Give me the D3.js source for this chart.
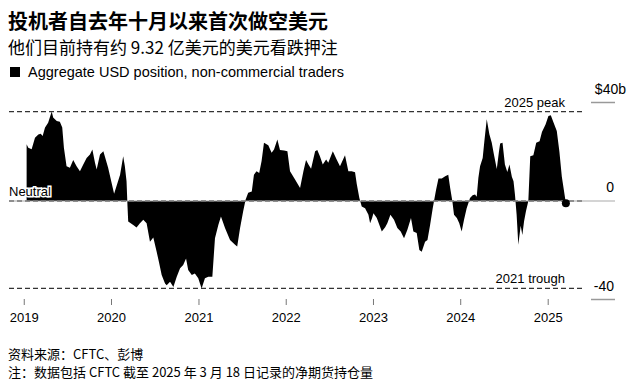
<!DOCTYPE html>
<html>
<head>
<meta charset="utf-8">
<script src="https://cdn.jsdelivr.net/npm/d3@7"></script>
<style>
  body { margin: 0; background: #fff; }
  svg { display: block; }
  text { font-family: "Liberation Sans", "Noto Sans CJK SC", sans-serif; fill: #000; }
  .cjk { font-family: "Noto Sans CJK SC", "Liberation Sans", sans-serif; }
</style>
</head>
<body>
<svg id="chart" width="636" height="383"></svg>
<script>
// weekly-ish readings, $bn net USD position
const dates = [
  "2019-01-13","2019-01-20","2019-02-03","2019-02-17","2019-03-03","2019-03-13","2019-03-21","2019-03-31",
  "2019-04-13","2019-04-28","2019-05-04","2019-05-19","2019-06-01","2019-06-11","2019-06-18","2019-06-29",
  "2019-07-13","2019-07-27","2019-08-10","2019-08-24","2019-09-07","2019-09-21","2019-10-05","2019-10-15",
  "2019-10-26","2019-11-02","2019-11-16","2019-11-30","2019-12-20",
  "2020-01-14","2020-02-08","2020-02-21","2020-02-28","2020-03-06","2020-03-10","2020-03-13","2020-04-03",
  "2020-04-17","2020-05-01","2020-05-15","2020-05-29","2020-06-12","2020-06-26","2020-07-10","2020-07-20",
  "2020-07-31","2020-08-14","2020-08-21","2020-09-04","2020-09-18","2020-10-02","2020-10-16","2020-10-29",
  "2020-11-10","2020-11-19","2020-12-04","2020-12-17","2020-12-31",
  "2021-01-14","2021-01-28","2021-02-11","2021-02-28","2021-03-11","2021-03-25","2021-04-05","2021-04-22",
  "2021-05-13","2021-06-03","2021-06-12","2021-06-24","2021-07-07","2021-07-17","2021-07-28","2021-08-12",
  "2021-08-21","2021-09-01","2021-09-12","2021-09-22","2021-10-02","2021-10-20","2021-11-03","2021-11-13",
  "2021-11-27","2021-12-08","2021-12-25",
  "2022-01-08","2022-01-19","2022-02-09","2022-03-02","2022-03-16","2022-03-27","2022-04-06","2022-04-17",
  "2022-05-04","2022-05-13","2022-05-24","2022-06-05","2022-06-19","2022-06-28","2022-07-17","2022-08-02",
  "2022-08-16","2022-09-06","2022-09-20","2022-10-04","2022-10-18","2022-10-25","2022-11-05","2022-11-15",
  "2022-11-29","2022-12-13","2022-12-20","2022-12-28",
  "2023-01-03","2023-01-17","2023-02-07","2023-02-21","2023-03-02","2023-03-15","2023-03-30","2023-04-13",
  "2023-04-27","2023-05-11","2023-05-25","2023-06-09","2023-06-19","2023-07-03","2023-07-14","2023-07-24",
  "2023-08-07","2023-08-17","2023-08-28","2023-09-08","2023-09-14","2023-09-22","2023-10-02","2023-10-16",
  "2023-10-30","2023-11-12","2023-11-20","2023-11-29","2023-12-06","2023-12-18","2023-12-28",
  "2024-01-07","2024-01-17","2024-01-28","2024-02-07","2024-02-11","2024-02-22","2024-03-03","2024-03-10",
  "2024-03-17","2024-03-24","2024-04-04","2024-04-11","2024-04-21","2024-05-02","2024-05-12","2024-05-21",
  "2024-06-02","2024-06-11","2024-06-16","2024-06-26","2024-07-06","2024-07-16","2024-07-25","2024-08-04",
  "2024-08-11","2024-08-17","2024-08-24","2024-08-31","2024-09-10","2024-09-17","2024-09-24","2024-10-02",
  "2024-10-12","2024-10-20","2024-11-02","2024-11-14","2024-11-28","2024-12-08","2024-12-23",
  "2025-01-04","2025-01-14","2025-01-25","2025-02-08","2025-02-19","2025-03-01","2025-03-18"
]
const usdPosition = [
  23, 21.6, 21, 25.7, 27, 27.3, 26.4, 29.8,
  31.8, 36.3, 33.9, 32.5, 32.2, 29.8, 21.6, 14.1,
  13.5, 16.6, 14.1, 12.1, 14.8, 17.5, 18.9, 20.9,
  15.5, 12.8, 18.9, 20.2, 13.5,
  2.9, 10.7, 18.2, 14.1, 8, -2, -8.3, -9.7,
  -10.8, -9, -7.6, -9, -16.5, -14.8, -20.6, -25,
  -30.1, -33.5, -34.2, -32.8, -34.9, -30.8, -27.3, -26,
  -23.3, -28, -30.1, -29.4, -31.4,
  -35.5, -31.4, -30.8, -30.8, -15.1, -9.7, -6.3, -11,
  -15.8, -17.8, -18.5, -11, -4.2, 0.5, 3.3, 3.9,
  10.7, 12.1, 11.4, 16.2, 23.7, 22.6, 19.6, 20.9,
  25, 20.7, 20.5,
  20.2, 12.1, 8.7, 5.3, 12.1, 16.6, 14.8, 13.1,
  20.2, 20.7, 18.2, 14.8, 16.9, 15.5, 20.2, 16.9,
  14.1, 18.6, 12.1, 12.1, 11.7, 7, 1.2, -2.2,
  -2.9, -5.6, -9, -7,
  -5, -6.9, -12.4, -10.7, -9, -5.6, -7.6, -11,
  -12.4, -15.1, -11.7, -6.9, -12.4, -13, -19.9, -20.6,
  -16.5, -15.8, -9.7, -2.9, 0.3, 4.6, 9.1, 9.1,
  10.1, 10.7, 5.3, 0, -5.6, -6.9, -9,
  -12.4, -7.6, -2.9, 0, 1.2, 2.3, 2.6, 1.7,
  9.4, 14.1, 17.5, 24.3, 33.2, 27.1, 23.7, 18.9,
  13, 20, 23.3, 23.7, 14.8, 11.8, 14.8, 9.8,
  8, 2.6, -5.6, -17.8, -10, -13.8, -8.3, -4.2,
  0, 18.2, 18.6, 23.7, 24.3, 28, 31.1,
  34.5, 34.8, 32, 28.4, 20, 10, -0.93
]
const yearTicks = ["2019","2020","2021","2022","2023","2024","2025"]
const valueTicks = [40, 0, -40]
const valueTickLabels = ["$40b", "0", "-40"]

const parse = d3.timeParse("%Y-%m-%d")
const data = dates.map((d, i) => ({ date: parse(d), value: usdPosition[i] }))

const svg = d3.select("#chart")

const x = d3.scaleTime()
    .domain([new Date(2020, 0, 1), new Date(2025, 0, 1)])
    .range([111, 547.7])
const y = d3.scaleLinear().domain([-40, 40]).range([299.5, 102.5])

// title block
svg.append("text").attr("class", "cjk").attr("x", 8).attr("y", 29)
    .style("font-size", "20px").style("font-weight", "bold")
    .text("投机者自去年十月以来首次做空美元")
svg.append("text").attr("class", "cjk").attr("x", 8).attr("y", 54)
    .style("font-size", "17px")
    .text("他们目前持有约 9.32 亿美元的美元看跌押注")
svg.append("rect").attr("x", 10).attr("y", 67).attr("width", 10).attr("height", 10).attr("fill", "#000")
svg.append("text").attr("x", 28).attr("y", 77).style("font-size", "14.5px")
    .text("Aggregate USD position, non-commercial traders")

// area
const area = d3.area()
    .x(d => x(d.date))
    .y0(y(0))
    .y1(d => y(d.value))
svg.append("path").datum(data).attr("d", area).attr("fill", "#000")

// reference lines
const peak = d3.max(usdPosition)
const trough = d3.min(usdPosition)
svg.append("line").attr("x1", 9).attr("x2", 615).attr("y1", y(0)).attr("y2", y(0))
    .attr("stroke", "#aaa").attr("stroke-width", 1.2)
svg.append("line").attr("x1", 9).attr("x2", 583).attr("y1", y(0)).attr("y2", y(0))
    .attr("stroke", "#777").attr("stroke-width", 1.5).attr("stroke-dasharray", "5,3")
;[peak, trough].forEach(v => {
  svg.append("line").attr("x1", 9).attr("x2", 583).attr("y1", y(v)).attr("y2", y(v))
      .attr("stroke", "#333").attr("stroke-width", 1.3).attr("stroke-dasharray", "5,3")
})
svg.append("text").attr("x", 565).attr("y", y(peak) - 5).attr("text-anchor", "end")
    .style("font-size", "13px").text("2025 peak")
svg.append("text").attr("x", 565).attr("y", y(trough) - 5).attr("text-anchor", "end")
    .style("font-size", "13px").text("2021 trough")
svg.append("text").attr("x", 9).attr("y", y(0) - 5).style("font-size", "13px")
    .attr("stroke", "#fff").attr("stroke-width", 3).attr("paint-order", "stroke")
    .text("Neutral")

// last point
const last = data[data.length - 1]
svg.append("circle").attr("cx", x(last.date)).attr("cy", y(last.value)).attr("r", 4).attr("fill", "#000")

// right axis
const ra = svg.append("g")
valueTicks.forEach((v, i) => {
  if (v !== 0) {
    ra.append("line").attr("x1", 591).attr("x2", 615).attr("y1", y(v)).attr("y2", y(v))
        .attr("stroke", "#999").attr("stroke-width", 1.5)
  }
  ra.append("text").attr("x", i === 0 ? 626 : 614).attr("y", y(v) - 9)
      .attr("text-anchor", "end").style("font-size", "14px").text(valueTickLabels[i])
})

// bottom axis
const xa = svg.append("g").attr("transform", "translate(0,299)")
    .call(d3.axisBottom(x).tickValues(yearTicks.map(t => new Date(+t, 0, 1)))
      .tickFormat(d3.timeFormat("%Y")).tickSize(6).tickPadding(8))
xa.select(".domain").remove()
xa.selectAll(".tick line").attr("stroke", "#777")
xa.selectAll(".tick text").style("font-size", "13px")
    .style("font-family", "'Liberation Sans', sans-serif").attr("fill", "#000")

// footer
svg.append("text").attr("class", "cjk").attr("x", 8).attr("y", 359).style("font-size", "13px")
    .text("资料来源：CFTC、彭博")
svg.append("text").attr("class", "cjk").attr("x", 8).attr("y", 377).style("font-size", "13px")
    .text("注：数据包括 CFTC 截至 2025 年 3 月 18 日记录的净期货持仓量")
</script>
</body>
</html>
